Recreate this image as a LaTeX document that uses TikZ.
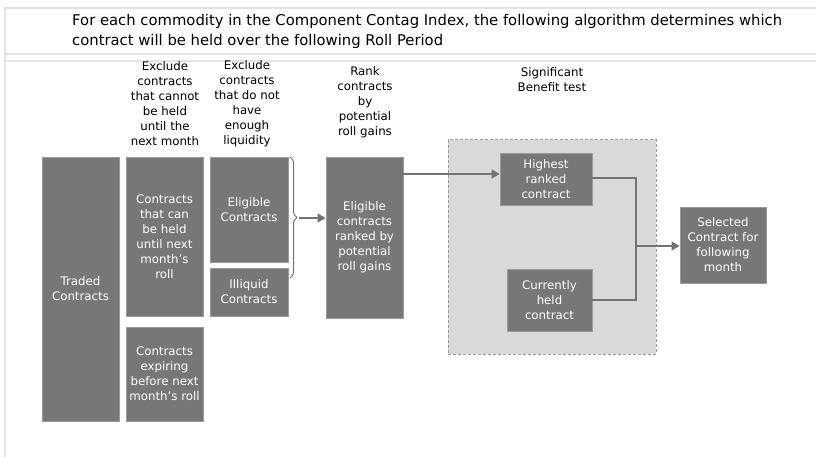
\documentclass[tikz,border=0pt]{standalone}
\usepackage{fontspec}
\setmainfont{DejaVu Sans}
\usetikzlibrary{arrows.meta,decorations.pathreplacing,calc}
\definecolor{boxgray}{HTML}{777777}
\definecolor{boxline}{HTML}{9A9A9A}
\definecolor{linegray}{HTML}{737373}
\definecolor{framegray}{HTML}{E4E4E4}
\definecolor{regionfill}{HTML}{D9D9D9}
\definecolor{regionline}{HTML}{9C9C9C}
\tikzset{
  graybox/.style={draw=boxline, line width=0.8pt, fill=boxgray, text=white, align=center, inner sep=0pt,
    font=\fontsize{11.8}{15}\selectfont},
  steplabel/.style={align=center, inner sep=0pt, font=\fontsize{11.8}{15}\selectfont, text=black},
  conn/.style={draw=linegray, line width=1.4pt},
  arr/.style={conn, -{Triangle[length=8pt,width=9pt]}},
  framelinestyle/.style={draw=framegray, line width=1.5pt},
}
\begin{document}
\begin{tikzpicture}[x=1pt,y=-1pt]
\useasboundingbox (0,0) rectangle (816,457);
% frame
\draw[framelinestyle] (816,8) -- (5,8) -- (5,457);
\draw[framelinestyle] (5,54) -- (816,54);
\draw[framelinestyle] (5,61) -- (816,61);
% title
\node[anchor=base west, align=left, inner sep=0pt, font=\fontsize{14.8}{20}\selectfont] (title) at (72,46)
  {For each commodity in the Component Contag Index, the following algorithm determines which\\
   contract will be held over the following Roll Period};
% step labels
\node[steplabel] (lab1) at (165,103.5) {Exclude\\contracts\\that cannot\\be held\\until the\\next month};
\node[steplabel] (lab2) at (247,103.5) {Exclude\\contracts\\that do not\\have\\enough\\liquidity};
\node[steplabel] (lab3) at (365,102) {Rank\\contracts\\by\\potential\\roll gains};
\node[steplabel] (lab4) at (552,80) {Significant\\Benefit test};
% region
\node[draw=regionline, fill=regionfill, dashed, dash pattern=on 3pt off 2pt, line width=1pt,
  minimum width=208pt, minimum height=214pt, inner sep=0pt] (region) at (552,247) {};
% boxes
\node[graybox, minimum width=77pt, minimum height=264pt] (traded) at (80.5,289) {Traded\\Contracts};
\node[graybox, minimum width=77pt, minimum height=159pt] (held) at (164.5,236.5) {Contracts\\that can\\be held\\until next\\month’s\\roll};
\node[graybox, minimum width=77pt, minimum height=94pt] (expiring) at (164.5,374) {Contracts\\expiring\\before next\\month’s roll};
\node[graybox, minimum width=78pt, minimum height=105pt] (eligible) at (249,209.5) {Eligible\\Contracts};
\node[graybox, minimum width=78pt, minimum height=48pt] (illiquid) at (249,292) {Illiquid\\Contracts};
\node[graybox, minimum width=77pt, minimum height=161pt] (ranked) at (364.5,237.5) {Eligible\\contracts\\ranked by\\potential\\roll gains};
\node[graybox, minimum width=92pt, minimum height=52pt] (highest) at (546,179) {Highest\\ranked\\contract};
\node[graybox, minimum width=85pt, minimum height=62pt] (current) at (549.5,300) {Currently\\held\\contract};
\node[graybox, minimum width=86pt, minimum height=76pt] (selected) at (723,245) {Selected\\Contract for\\following\\month};
% brace
\draw[conn, line width=1pt, decorate, decoration={brace, amplitude=7pt}] (290,157) -- (290,278);
\coordinate (bracetip) at (299,218);
\draw[arr] (bracetip) -- (bracetip -| ranked.west);
% ranked -> highest
\coordinate (rankout) at (ranked.east |- 0,174);
\draw[arr] (rankout) -- (rankout -| highest.west);
% merge
\coordinate (junction) at (636,246);
\draw[conn] (highest.east |- 0,178) -| (junction) |- (current.east);
\draw[arr] (junction) -- (junction -| selected.west);
\end{tikzpicture}
\end{document}
